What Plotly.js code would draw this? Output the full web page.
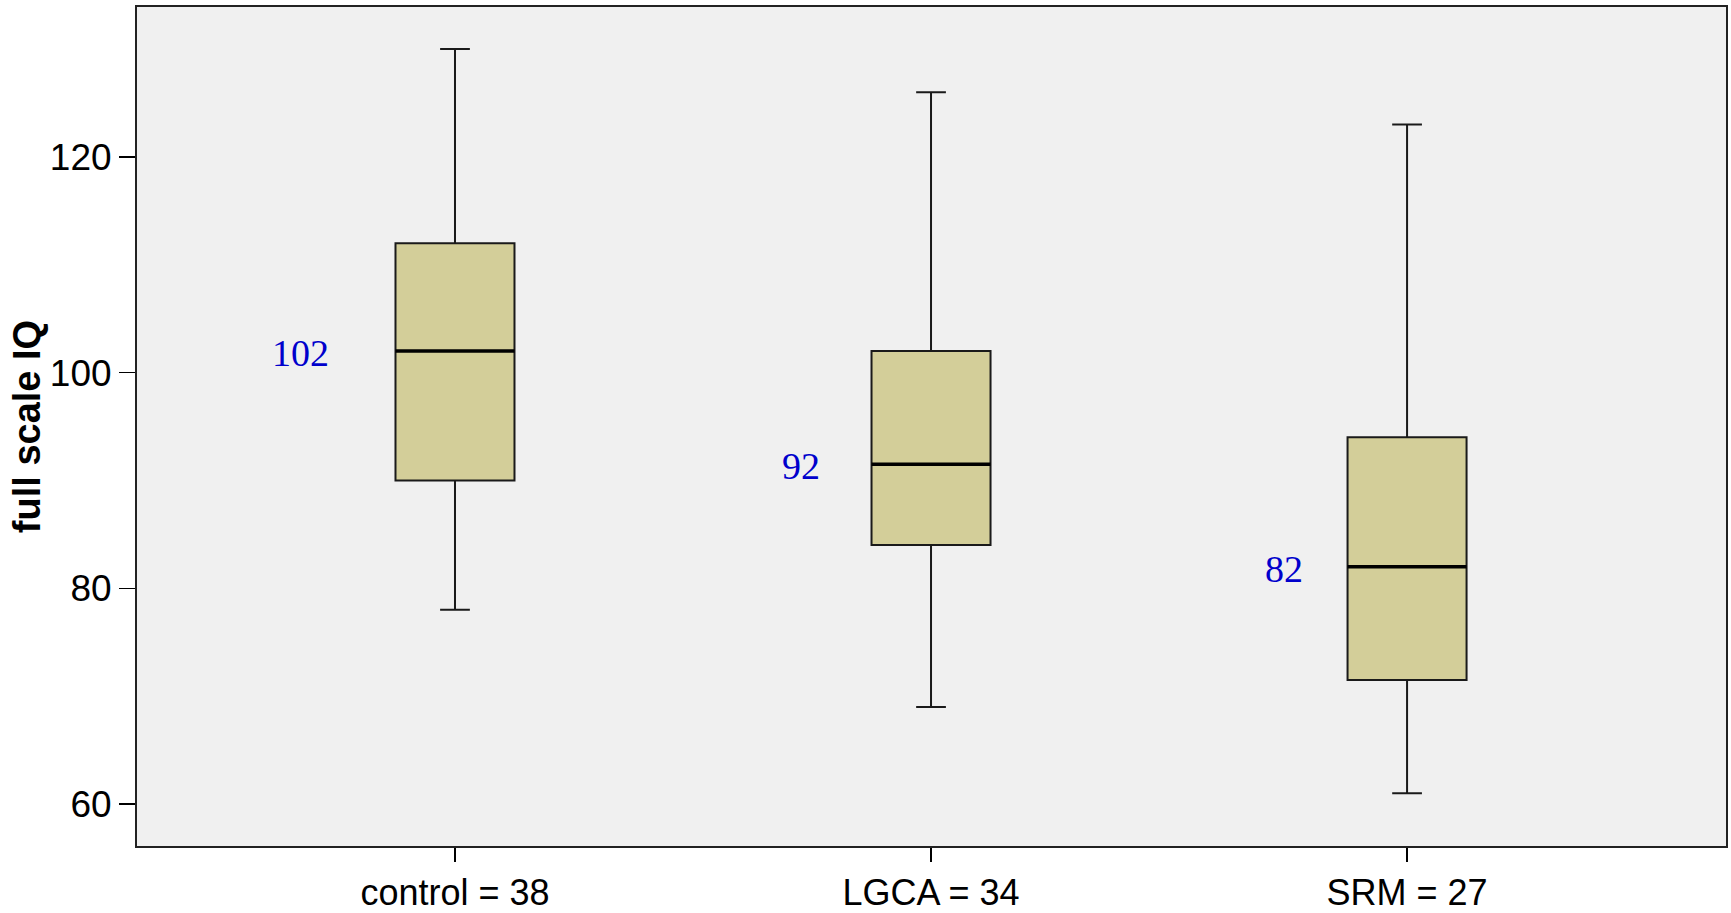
<!DOCTYPE html>
<html>
<head>
<meta charset="utf-8">
<script src="https://cdn.plot.ly/plotly-3.0.1.min.js"></script>
<style>
html,body{margin:0;padding:0;background:#fff;}
#chart{width:1731px;height:913px;}
</style>
</head>
<body>
<div id="chart"></div>
<script>
// Data
const groups = ["control", "LGCA", "SRM"];
const groupN = [38, 34, 27];
const lowerWhisker = [78, 69, 61];
const q1 = [90, 84, 71.5];
const median = [102, 91.5, 82];
const q3 = [112, 102, 94];
const upperWhisker = [130, 126, 123];
const medianLabels = ["102", "92", "82"];
const yTicks = [60, 80, 100, 120];

const xIdx = groups.map((g, i) => i);
const tickText = groups.map((g, i) => g + " = " + groupN[i]);
const boxWidth = 0.25;

const trace = {
  type: "box",
  x: xIdx,
  q1: q1,
  median: median,
  q3: q3,
  lowerfence: lowerWhisker,
  upperfence: upperWhisker,
  width: boxWidth,
  whiskerwidth: 0.25,
  fillcolor: "#D3CE99",
  line: {color: "#1a1a1a", width: 2},
  boxpoints: false,
  hoverinfo: "skip",
  showlegend: false
};

// Thicker median lines
const shapes = xIdx.map(i => ({
  type: "line", xref: "x", yref: "y",
  x0: i - boxWidth / 2, x1: i + boxWidth / 2,
  y0: median[i], y1: median[i],
  line: {color: "#000", width: 3.5}
}));

// horizontal pixel shift of each median label (placement only)
const labelShiftPx = [-124, -109, -102];
const annotations = xIdx.map(i => ({
  xref: "x", yref: "y",
  x: i, y: median[i],
  xanchor: "right", yanchor: "middle",
  xshift: labelShiftPx[i], yshift: -2,
  text: medianLabels[i],
  showarrow: false,
  font: {family: "Liberation Serif, Times New Roman, serif", size: 38, color: "#0000CC"}
}));

const layout = {
  width: 1731, height: 913,
  margin: {l: 137, r: 5, t: 7, b: 67},
  paper_bgcolor: "#ffffff",
  plot_bgcolor: "#F0F0F0",
  font: {family: "Liberation Sans, Arial, sans-serif", color: "#000"},
  xaxis: {
    range: [-0.668, 2.67],
    tickvals: xIdx,
    ticktext: tickText,
    ticks: "outside", ticklen: 14, tickwidth: 1.5, tickcolor: "#000",
    showgrid: false, zeroline: false,
    showline: true, mirror: true, linecolor: "#222", linewidth: 2,
    tickfont: {size: 36, color: "#000"}
  },
  yaxis: {
    range: [56.1, 133.9],
    tickvals: yTicks,
    ticks: "outside", ticklen: 16, tickwidth: 1.5, tickcolor: "#000",
    showgrid: false, zeroline: false,
    showline: true, mirror: true, linecolor: "#222", linewidth: 2,
    tickfont: {size: 37, color: "#000"},
    title: {text: "<b>full scale IQ</b>", font: {size: 38, color: "#000"}}
  },
  shapes: shapes,
  annotations: annotations
};

Plotly.newPlot("chart", [trace], layout, {displayModeBar: false, staticPlot: true});
</script>
</body>
</html>
